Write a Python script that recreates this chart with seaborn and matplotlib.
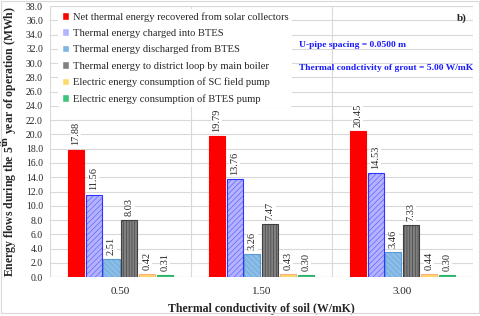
import numpy as np
import pandas as pd
import matplotlib
matplotlib.use("Agg")
import matplotlib.pyplot as plt
import seaborn as sns

categories = ["0.50", "1.50", "3.00"]
series = [
    "Net thermal energy recovered from solar collectors",
    "Thermal energy charged into BTES",
    "Thermal energy discharged from BTES",
    "Thermal energy to district loop by main boiler",
    "Electric energy consumption of SC field pump",
    "Electric energy consumption of BTES pump",
]
net_solar = [17.88, 19.79, 20.45]
charged = [11.56, 13.76, 14.53]
discharged = [2.51, 3.26, 3.46]
boiler = [8.03, 7.47, 7.33]
sc_pump = [0.42, 0.43, 0.44]
btes_pump = [0.31, 0.30, 0.30]
values = [net_solar, charged, discharged, boiler, sc_pump, btes_pump]

fills = ["#FF0000", "#B3B3FF", "#7FB5E2", "#808080", "#FFD966", "#3CC47C"]
edges = ["#FF0000", "#3333FF", "#5B9BD5", "#404040", "#F4B183", "#2EAF68"]
hatches = [None, "//////", "\\\\\\\\\\\\", "||||||", None, None]
hatch_colors = [None, "#5C5CFF", "#A8D0F0", "#404040", None, None]

rows = []
for s, vals in zip(series, values):
    for c, v in zip(categories, vals):
        rows.append({"cat": c, "series": s, "value": v})
df = pd.DataFrame(rows)

sns.set_style("white")
plt.rcParams["font.family"] = ["Liberation Serif", "DejaVu Serif"]
plt.rcParams["hatch.linewidth"] = 0.45

fig = plt.figure(figsize=(4.8, 3.16), dpi=100)
ax = fig.add_axes([0.104, 0.123, 0.881, 0.858])

sns.barplot(data=df, x="cat", y="value", hue="series", hue_order=series,
            order=categories, palette=fills, width=0.76, gap=0.1,
            ax=ax, legend=True, saturation=1)

for i, cont in enumerate(ax.containers):
    for p in cont.patches:
        p.set_facecolor(fills[i])
        p.set_edgecolor(edges[i])
        p.set_linewidth(0.8)
        if hatches[i]:
            p.set_hatch(hatches[i])
            p._hatch_color = matplotlib.colors.to_rgba(hatch_colors[i])
    labels = ["%.2f" % v for v in values[i]]
    ax.bar_label(cont, labels=labels, rotation=90, padding=3, fontsize=7.5,
                 bbox=dict(facecolor="white", edgecolor="none", pad=0.5))

ax.set_ylim(0, 38)
ax.set_xlim(-0.5, 2.5)
ax.set_yticks(np.arange(0, 38.1, 2))
ax.set_yticklabels(["%.1f" % t for t in np.arange(0, 38.1, 2)], fontsize=7)
ax.tick_params(axis="x", labelsize=8, length=0, pad=7)
ax.tick_params(axis="y", length=0, pad=5)
ax.set_axisbelow(True)
ax.yaxis.grid(True, color="#D9D9D9", linewidth=0.8)
for xb in [-0.5, 0.5, 1.5, 2.5]:
    ax.axvline(xb, color="#D9D9D9", linewidth=0.8, zorder=0)
for sp in ax.spines.values():
    sp.set_visible(False)
ax.axhline(0, color="#D9D9D9", linewidth=0.8, zorder=0)

ax.set_xlabel("Thermal conductivity of soil (W/mK)", fontsize=8.5, fontweight="bold", labelpad=5)
ax.set_ylabel("Energy flows during the 5$^{\\mathbf{th}}$ year of operation (MWh)",
              fontsize=8.5, fontweight="bold", labelpad=5)

leg = ax.legend(loc="upper left", bbox_to_anchor=(0.02, 0.99), fontsize=7.6,
                frameon=True, framealpha=1, edgecolor="none", facecolor="white",
                handlelength=0.7, handleheight=0.7, handletextpad=0.4,
                labelspacing=0.65, borderpad=0.3, borderaxespad=0)

ax.text(0.985, 0.955, "b)", transform=ax.transAxes, ha="right", va="center",
        fontsize=8, fontweight="bold")
ax.text(0.59, 0.855, "U-pipe spacing = 0.0500 m", transform=ax.transAxes,
        ha="left", va="center", fontsize=6.8, fontweight="bold", color="#1A1AFF")
ax.text(0.59, 0.773, "Thermal condctivity of grout = 5.00 W/mK", transform=ax.transAxes,
        ha="left", va="center", fontsize=6.8, fontweight="bold", color="#1A1AFF")

fig.patches.append(matplotlib.patches.Rectangle((0.002, 0.008), 0.996, 0.99,
                   transform=fig.transFigure, fill=False, edgecolor="#D9D9D9",
                   linewidth=0.8))

fig.savefig("out.png", dpi=100)
